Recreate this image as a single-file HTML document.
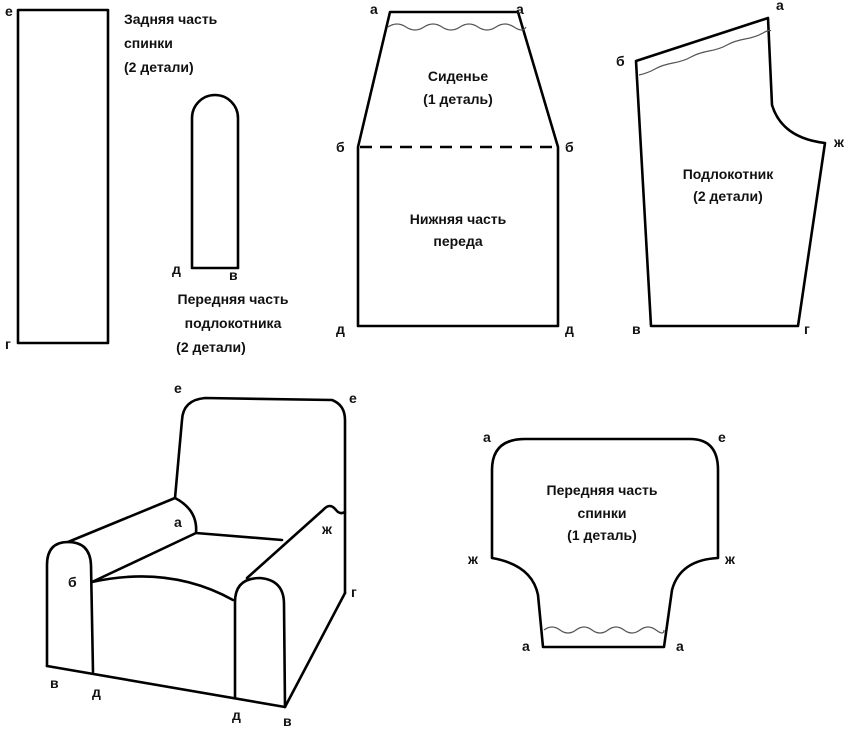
<!DOCTYPE html>
<html><head><meta charset="utf-8"><style>
html,body{margin:0;padding:0;background:#fff;}
svg{display:block}
text{font-family:"Liberation Sans","DejaVu Sans",sans-serif;font-size:14px;font-weight:bold;fill:#111;}
.l{font-size:14px;font-weight:bold}
</style></head><body>
<svg width="845" height="729" viewBox="0 0 845 729">
<g fill="none" stroke="#000" stroke-width="2.6" stroke-linejoin="round" stroke-linecap="round">
<rect x="18" y="10" width="90" height="333"/>
<path d="M192,268 V118 A23,23 0 0 1 238,118 V268 Z"/>
<path d="M390,12 H518 L558,147 V326 H358 V147 Z"/>
<path d="M636,61 L768,18 L772,105 Q782,138 825,143 L798,326 H651 Z"/>
<path d="M492,558 V470 Q492,439 525,439 H690 Q718,439 718,470 V558 Q680,560 672,590 L664,647 H543 L538,595 Q532,565 492,558 Z"/>
<path d="M175,498 L182,420 Q183,400 205,398 L332,400 Q345,405 345,420 V593"/>
<path d="M175,498 L68,542"/>
<path d="M175,498 Q198,510 196,533 L282,540"/>
<path d="M196,533 L92,582"/>
<path d="M92,582 Q170,565 233,600"/>
<path d="M47,666 V565 Q47,542 68,542 Q90,542 91,565 L93,672"/>
<path d="M247,578 L323,510 Q330,502 336,510 Q340,515 345,512"/>
<path d="M235,698 V602 Q235,578 260,578 Q284,580 284,604 L285,707"/>
<path d="M47,666 L285,707 L345,593"/>
</g>
<g fill="none" stroke="#000" stroke-width="2.4" stroke-dasharray="12,8"><path d="M360,147 H556"/></g>
<g fill="none" stroke="#555" stroke-width="1.2">
<path d="M388,27 q9,-6 18,0 t18,0 t18,0 t18,0 t18,0 t18,0 t18,0 t12,0"/>
<path d="M639,75 q9,-2 16,-6 t18,-6 t18,-6 t18,-6 t18,-6 t18,-6 t18,-6 t8,-2"/>
<path d="M544,630 q8,-6 16,0 t16,0 t16,0 t16,0 t16,0 t16,0 t16,0 t8,0"/>
</g>
<g class="l">
<text x="5" y="16">е</text><text x="5" y="349">г</text>
<text x="172" y="274">д</text><text x="229" y="280">в</text>
<text x="370" y="14">а</text><text x="516" y="14">а</text>
<text x="336" y="152">б</text><text x="565" y="152">б</text>
<text x="336" y="334">д</text><text x="565" y="334">д</text>
<text x="776" y="10">а</text><text x="616" y="66">б</text><text x="834" y="147">ж</text>
<text x="632" y="334">в</text><text x="804" y="334">г</text>
<text x="174" y="393">е</text><text x="349" y="403">е</text>
<text x="174" y="527">а</text><text x="68" y="587">б</text><text x="322" y="534">ж</text>
<text x="351" y="597">г</text><text x="50" y="688">в</text><text x="92" y="697">д</text>
<text x="232" y="720">д</text><text x="283" y="726">в</text>
<text x="483" y="442">а</text><text x="718" y="442">е</text>
<text x="468" y="564">ж</text><text x="725" y="564">ж</text>
<text x="522" y="651">а</text><text x="676" y="651">а</text>
</g>
<text x="124" y="24">Задняя часть</text>
<text x="124" y="48">спинки</text>
<text x="124" y="72">(2 детали)</text>
<g text-anchor="middle">
<text x="233" y="304">Передняя часть</text>
<text x="233" y="328">подлокотника</text>
<text x="211" y="352">(2 детали)</text>
<text x="458" y="81">Сиденье</text>
<text x="458" y="104">(1 деталь)</text>
<text x="458" y="224">Нижняя часть</text>
<text x="458" y="246">переда</text>
<text x="728" y="179">Подлокотник</text>
<text x="728" y="201">(2 детали)</text>
<text x="602" y="495">Передняя часть</text>
<text x="602" y="518">спинки</text>
<text x="602" y="540">(1 деталь)</text>
</g>
</svg>
</body></html>
